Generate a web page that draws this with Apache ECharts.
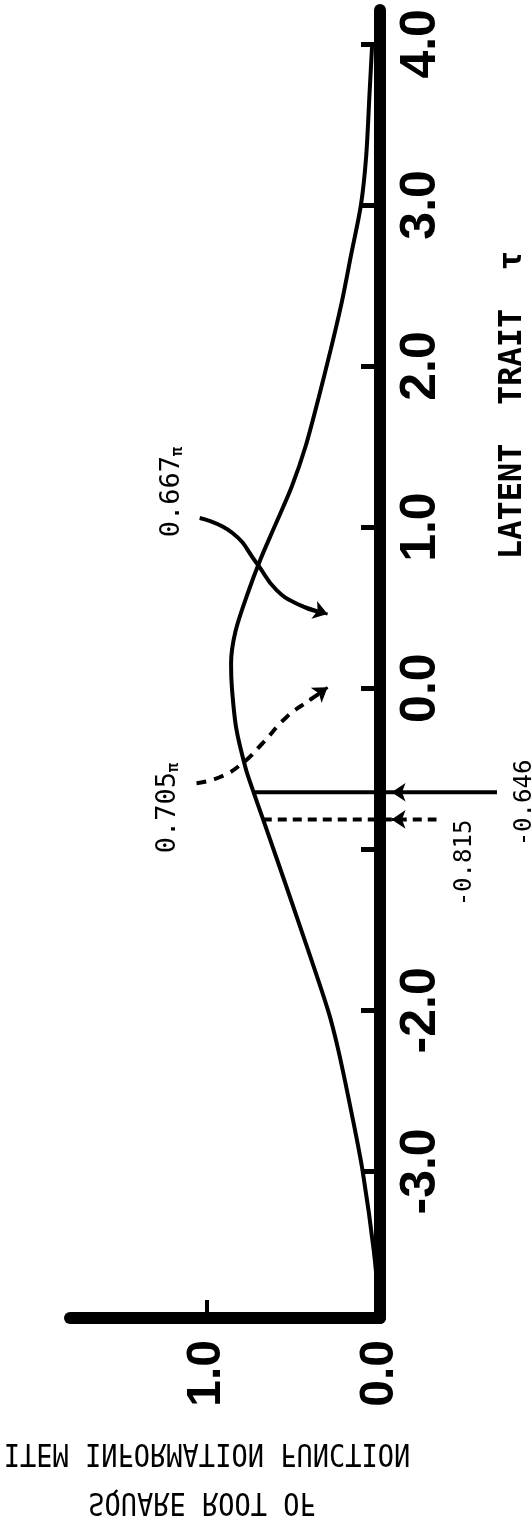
<!DOCTYPE html>
<html>
<head>
<meta charset="utf-8">
<title>Item information function</title>
<script src="https://cdn.jsdelivr.net/npm/echarts@6/dist/echarts.min.js"></script>
<style>
  html, body { margin: 0; padding: 0; background: #fff; }
  #chart { width: 531px; height: 1516px; }
</style>
</head>
<body>
<div id="chart"></div>
<script>
// latent trait (tau) and square root of the item information function
const tauValues = [-3.91, -3.5, -3.0, -2.66, -2.25, -2.0, -1.5, -1.0, -0.815, -0.646, -0.5, -0.25, 0.0,
  0.15, 0.35, 0.6, 0.8, 1.0, 1.25, 1.5, 1.8, 2.1, 2.4, 2.7, 3.0, 3.3, 3.7, 4.0];
const infoValues = [0, 0.035, 0.10, 0.16, 0.24, 0.30, 0.455, 0.615, 0.675, 0.73, 0.775, 0.83, 0.855,
  0.86, 0.835, 0.76, 0.69, 0.61, 0.51, 0.43, 0.355, 0.285, 0.22, 0.165, 0.11, 0.08, 0.06, 0.045];

// axis ticks
const tauTicks = [-3, -2, -1, 0, 1, 2, 3, 4];
const tauTickLabels = [-3, -2, 0, 1, 2, 3, 4];
const infoTicks = [1];
const infoTickLabels = [0, 1];

// marked points on the tau axis: [tau, info on curve, far end past the axis]
const solidCut = [-0.646, 0.73, -0.68];
const dashedCut = [-0.815, 0.675, -0.33];

// annotation arrows, [info, tau]
const arrow667 = [[1.04, 1.056], [0.85, 0.963], [0.71, 0.776], [0.595, 0.609], [0.462, 0.516], [0.36, 0.475]];
const arrow705 = [[1.058, -0.59], [0.925, -0.553], [0.792, -0.466], [0.676, -0.342], [0.538, -0.18], [0.405, -0.075], [0.35, -0.035]];

const chart = echarts.init(document.getElementById('chart'));

const tickFont = {fontFamily: 'Liberation Sans, Arial, sans-serif', fontWeight: 'bold', color: '#000'};
const monoFont = 'DejaVu Sans Mono, monospace';

function rotText(x, y, text, size, extra) {
  return Object.assign({
    type: 'text', x: x, y: y, rotation: Math.PI / 2,
    style: {text: text, font: size + 'px ' + monoFont, fill: '#000',
      align: 'center', verticalAlign: 'middle', textAlign: 'center', textVerticalAlign: 'middle',
      rich: {p: {fontSize: 15, fontFamily: monoFont, fontWeight: 'bold', verticalAlign: 'bottom'}}}
  }, extra || {});
}

const option = {
  backgroundColor: '#fff',
  animation: false,
  grid: [
    {left: 70, right: 151, top: 10, bottom: 198},
    // same scale, wider, for the marks that run past the tau axis
    {left: 70, right: 34, top: 10, bottom: 198}
  ],
  xAxis: [
    {
      type: 'value',
      inverse: true,
      min: 0,
      max: 1.79,
      position: 'bottom',
      axisLine: {onZero: false, lineStyle: {color: '#000', width: 12, cap: 'round'}},
      axisTick: {show: true, inside: true, length: 18, customValues: infoTicks, lineStyle: {color: '#000', width: 4}},
      axisLabel: {
        ...tickFont,
        customValues: infoTickLabels,
        rotate: 90,
        fontSize: 48,
        margin: 22,
        formatter: v => v.toFixed(1)
      },
      splitLine: {show: false}
    },
    {gridIndex: 1, type: 'value', inverse: true, min: -0.68, max: 1.79, show: false}
  ],
  yAxis: [
    {
      type: 'value',
      min: -3.91,
      max: 4.21,
      position: 'right',
      axisLine: {onZero: false, lineStyle: {color: '#000', width: 12, cap: 'round'}},
      axisTick: {show: true, inside: true, length: 19, customValues: tauTicks, lineStyle: {color: '#000', width: 5}},
      axisLabel: {
        ...tickFont,
        customValues: tauTickLabels,
        rotate: 90,
        fontSize: 50,
        margin: 16,
        formatter: v => v.toFixed(1)
      },
      splitLine: {show: false}
    },
    {gridIndex: 1, type: 'value', min: -3.91, max: 4.21, show: false}
  ],
  graphic: [
    {
      type: 'text', x: 513, y: 405, rotation: Math.PI / 2,
      style: {text: 'LATENT  TRAIT  τ', font: 'bold 32px ' + monoFont, fill: '#000',
        align: 'center', verticalAlign: 'middle', textAlign: 'center', textVerticalAlign: 'middle'}
    },
    {
      type: 'text', x: 207, y: 1452, scaleY: -1.2,
      style: {text: 'ITEM INFORMATION FUNCTION', font: '27px ' + monoFont, fill: '#000',
        align: 'center', verticalAlign: 'middle', textAlign: 'center', textVerticalAlign: 'middle'}
    },
    {
      type: 'text', x: 202, y: 1501, scaleY: -1.2,
      style: {text: 'SQUARE ROOT OF', font: '27px ' + monoFont, fill: '#000',
        align: 'center', verticalAlign: 'middle', textAlign: 'center', textVerticalAlign: 'middle'}
    },
    rotText(172, 492, '0.667{p|π}', 27),
    rotText(168, 808, '0.705{p|π}', 27),
    rotText(465, 863, dashedCut[0].toFixed(3), 24),
    rotText(525, 803, solidCut[0].toFixed(3), 24)
  ],
  series: [
    {
      name: 'info',
      type: 'line',
      smooth: 0.3,
      symbol: 'none',
      clip: false,
      lineStyle: {color: '#000', width: 4},
      data: tauValues.map((t, i) => [infoValues[i], t])
    },
    {
      name: 'cutSolid',
      type: 'line',
      xAxisIndex: 1,
      yAxisIndex: 1,
      symbol: 'none',
      lineStyle: {color: '#000', width: 4},
      data: [[solidCut[1], solidCut[0]], [solidCut[2], solidCut[0]]]
    },
    {
      name: 'cutDashed',
      type: 'line',
      xAxisIndex: 1,
      yAxisIndex: 1,
      symbol: 'none',
      lineStyle: {color: '#000', width: 4, type: [9, 6]},
      data: [[dashedCut[1], dashedCut[0]], [dashedCut[2], dashedCut[0]]]
    },
    {
      name: 'arrow667',
      type: 'line',
      xAxisIndex: 1,
      yAxisIndex: 1,
      smooth: 0.5,
      symbol: 'none',
      lineStyle: {color: '#000', width: 4},
      data: arrow667
    },
    {
      name: 'arrow705',
      type: 'line',
      xAxisIndex: 1,
      yAxisIndex: 1,
      smooth: 0.5,
      symbol: 'none',
      lineStyle: {color: '#000', width: 4, type: [10, 8]},
      data: arrow705
    },
    // arrow heads
    {
      name: 'heads',
      type: 'lines',
      coordinateSystem: 'cartesian2d',
      xAxisIndex: 1,
      yAxisIndex: 1,
      symbol: ['none', 'arrow'],
      symbolSize: 14,
      lineStyle: {color: '#000', width: 3, opacity: 1},
      data: [
        {coords: [[-0.12, solidCut[0]], [-0.07, solidCut[0]]]},
        {coords: [[-0.12, dashedCut[0]], [-0.07, dashedCut[0]]]},
        {coords: [arrow667[arrow667.length - 2], [0.3, 0.46]]},
        {coords: [arrow705[arrow705.length - 2], [0.3, 0.005]]}
      ]
    }
  ]
};

chart.setOption(option);
</script>
</body>
</html>
